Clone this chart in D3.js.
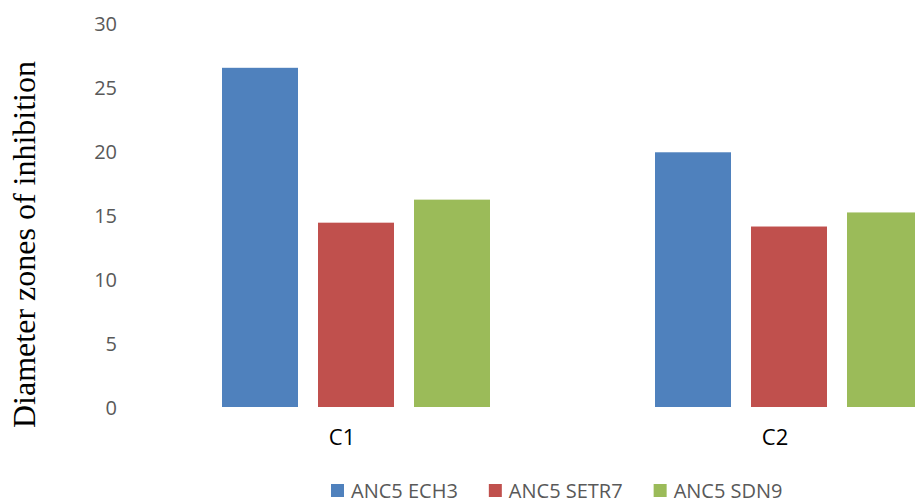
<!DOCTYPE html>
<html>
<head>
<meta charset="utf-8">
<script src="https://cdn.jsdelivr.net/npm/d3@7"></script>
<style>
  html, body { margin: 0; padding: 0; background: #fff; }
  svg { display: block; overflow: hidden; }
</style>
</head>
<body>
<svg id="chart" width="915" height="502"></svg>
<script>
// Inhibition zone diameters per compound and strain
const categories = ["C1", "C2"];
const seriesNames = ["ANC5 ECH3", "ANC5 SETR7", "ANC5 SDN9"];
const seriesColors = ["#4F81BD", "#C0504D", "#9BBB59"];
const valuesECH3 = [26.5, 19.9];
const valuesSETR7 = [14.4, 14.1];
const valuesSDN9 = [16.2, 15.2];
const yTicks = [0, 5, 10, 15, 20, 25, 30];
const yTitle = "Diameter zones of inhibition";

const seriesValues = [valuesECH3, valuesSETR7, valuesSDN9];
const rows = categories.map((c, i) => ({
  category: c,
  values: seriesNames.map((s, k) => ({ series: s, color: seriesColors[k], value: seriesValues[k][i] }))
}));

const svg = d3.select("#chart");

// Scales: the plot area runs past the right edge of the canvas
const x0 = d3.scaleBand().domain(categories).range([139.5, 1005.5]).paddingInner(0).paddingOuter(0);
const groupWidth = 268;
const x1 = d3.scaleBand().domain(seriesNames)
  .range([(x0.step() - groupWidth) / 2, (x0.step() + groupWidth) / 2])
  .paddingInner(20 / 96).paddingOuter(0);
const y = d3.scaleLinear().domain([0, 30]).range([407, 23]);

// Y axis: labels only
const yAxis = svg.append("g")
  .attr("transform", "translate(127,0)")
  .call(d3.axisLeft(y).tickValues(yTicks).tickSize(0).tickPadding(10));
yAxis.select(".domain").remove();
yAxis.selectAll("text")
  .attr("font-family", "'Open Sans', sans-serif")
  .attr("font-size", 20)
  .attr("fill", "#595959")
  .attr("dy", "0.36em");

// Y title
svg.append("text")
  .attr("transform", "translate(35,244.5) rotate(-90)")
  .attr("text-anchor", "middle")
  .attr("font-family", "'Liberation Serif', 'Times New Roman', serif")
  .attr("font-size", 32)
  .attr("fill", "#000")
  .text(yTitle);

// Bars
const groups = svg.append("g").selectAll("g")
  .data(rows)
  .join("g")
  .attr("transform", d => `translate(${x0(d.category)},0)`);

groups.selectAll("rect")
  .data(d => d.values)
  .join("rect")
  .attr("x", d => x1(d.series))
  .attr("width", x1.bandwidth())
  .attr("y", d => y(d.value))
  .attr("height", d => y(0) - y(d.value))
  .attr("fill", d => d.color);

// Category labels
svg.append("g").selectAll("text")
  .data(categories)
  .join("text")
  .attr("x", d => x0(d) + x0.bandwidth() / 2 - 14)
  .attr("y", 445)
  .attr("text-anchor", "middle")
  .attr("font-family", "'Open Sans', sans-serif")
  .attr("font-size", 22)
  .attr("fill", "#000")
  .text(d => d);

// Legend
const legend = svg.append("g");
let lx = 331;
seriesNames.forEach((name, k) => {
  legend.append("rect")
    .attr("x", lx).attr("y", 484)
    .attr("width", 13).attr("height", 13)
    .attr("fill", seriesColors[k]);
  const t = legend.append("text")
    .attr("x", lx + 20).attr("y", 497.5)
    .attr("font-family", "'Open Sans', sans-serif")
    .attr("font-size", 20)
    .attr("fill", "#595959")
    .text(name);
  lx = lx + 20 + t.node().getComputedTextLength() + 31;
});
</script>
</body>
</html>
